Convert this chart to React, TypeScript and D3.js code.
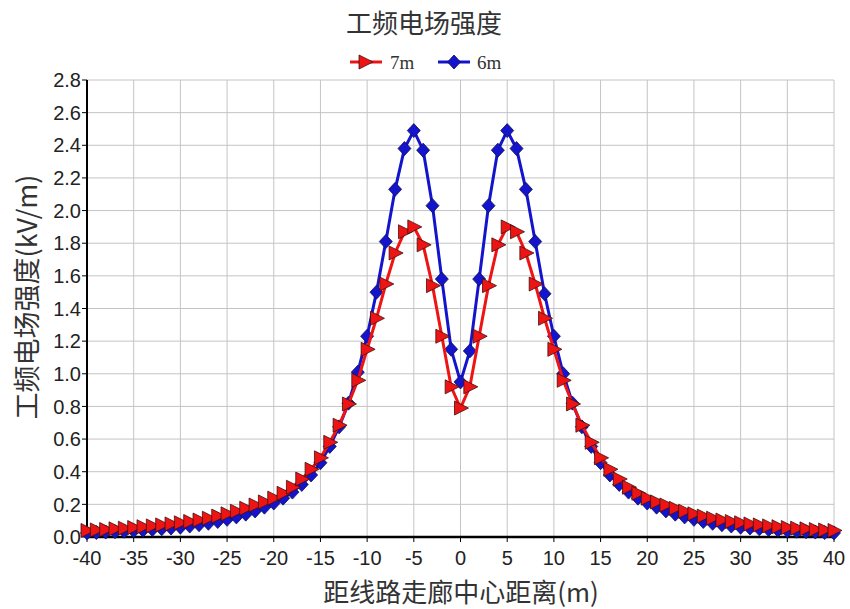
import React from 'react';
import * as d3 from 'd3';

// distance from corridor centre (m)
const distances = [
  -40, -39, -38, -37, -36, -35, -34, -33, -32, -31, -30, -29, -28, -27, -26, -25, -24, -23, -22, -21,
  -20, -19, -18, -17, -16, -15, -14, -13, -12, -11, -10, -9, -8, -7, -6, -5, -4, -3, -2, -1,
  0, 1, 2, 3, 4, 5, 6, 7, 8, 9, 10, 11, 12, 13, 14, 15, 16, 17, 18, 19, 20,
  21, 22, 23, 24, 25, 26, 27, 28, 29, 30, 31, 32, 33, 34, 35, 36, 37, 38, 39, 40,
];

// 7m conductor height (kV/m)
const field7m = [
  0.040, 0.043, 0.046, 0.050, 0.054, 0.058, 0.063, 0.068, 0.074, 0.080, 0.087, 0.095, 0.104, 0.115, 0.128, 0.142, 0.158, 0.176, 0.196, 0.215,
  0.238, 0.268, 0.305, 0.355, 0.415, 0.485, 0.580, 0.685, 0.815, 0.960, 1.15, 1.34, 1.55, 1.74, 1.87, 1.90, 1.79, 1.54, 1.23, 0.92,
  0.79, 0.92, 1.23, 1.54, 1.79, 1.90, 1.87, 1.74, 1.55, 1.34, 1.15, 0.960, 0.815, 0.685, 0.580, 0.485, 0.415, 0.355, 0.305, 0.268, 0.238,
  0.215, 0.196, 0.176, 0.158, 0.142, 0.128, 0.115, 0.104, 0.095, 0.087, 0.080, 0.074, 0.068, 0.063, 0.058, 0.054, 0.050, 0.046, 0.043, 0.040,
];

// 6m conductor height (kV/m)
const field6m = [
  0.025, 0.027, 0.030, 0.032, 0.035, 0.038, 0.042, 0.046, 0.050, 0.055, 0.060, 0.067, 0.075, 0.084, 0.095, 0.108, 0.123, 0.140, 0.160, 0.183,
  0.208, 0.238, 0.275, 0.322, 0.380, 0.455, 0.555, 0.675, 0.820, 1.01, 1.23, 1.50, 1.81, 2.13, 2.38, 2.49, 2.37, 2.03, 1.58, 1.15,
  0.95, 1.14, 1.58, 2.03, 2.37, 2.49, 2.38, 2.13, 1.81, 1.49, 1.23, 1.00, 0.820, 0.675, 0.555, 0.455, 0.380, 0.322, 0.275, 0.238, 0.208,
  0.183, 0.160, 0.140, 0.123, 0.108, 0.095, 0.084, 0.075, 0.067, 0.060, 0.055, 0.050, 0.046, 0.042, 0.038, 0.035, 0.032, 0.030, 0.027, 0.025,
];

const xTicks = d3.range(-40, 41, 5);
const yTicks = d3.range(0, 2.81, 0.2);

const title = '工频电场强度';
const xLabel = '距线路走廊中心距离(m)';
const yLabel = '工频电场强度(kV/m)';

const RED = '#ee1414';
const BLUE = '#1414cc';
const CJK = '"Noto Sans CJK SC", sans-serif';
const NUM = '"Liberation Sans", Arial, sans-serif';

const triangle = (cx: number, cy: number) =>
  `M${cx - 6},${cy - 7}L${cx + 8},${cy}L${cx - 6},${cy + 7}Z`;
const diamond = (cx: number, cy: number) =>
  `M${cx},${cy - 7}L${cx + 6.5},${cy}L${cx},${cy + 7}L${cx - 6.5},${cy}Z`;

const App = () => {
  const width = 850;
  const height = 609;
  const m = { left: 87, right: 834, top: 80, bottom: 537 };

  const x = d3.scaleLinear().domain([-40, 40]).range([m.left, m.right]);
  const y = d3.scaleLinear().domain([0, 2.8]).range([m.bottom, m.top]);

  const line = d3.line<[number, number]>()
    .x(d => x(d[0]))
    .y(d => y(d[1]));

  const red = distances.map((d, i) => [d, field7m[i]] as [number, number]);
  const blue = distances.map((d, i) => [d, field6m[i]] as [number, number]);

  return (
    <svg width={width} height={height} style={{ position: 'absolute', left: 0, top: 0, background: '#fff' }}>
      <rect width={width} height={height} fill="#fff" />

      {/* grid */}
      {xTicks.map(t => (
        <line key={'gx' + t} x1={x(t)} x2={x(t)} y1={m.top} y2={m.bottom} stroke="#c4c4c4" strokeWidth={1} />
      ))}
      {yTicks.map(t => (
        <line key={'gy' + t} x1={m.left} x2={m.right} y1={y(t)} y2={y(t)} stroke="#c4c4c4" strokeWidth={1} />
      ))}

      {/* axes */}
      <line x1={m.left} x2={m.left} y1={m.top} y2={m.bottom + 1} stroke="#000" strokeWidth={2} />
      <line x1={m.left - 1} x2={m.right} y1={m.bottom} y2={m.bottom} stroke="#000" strokeWidth={2.5} />
      {yTicks.map(t => (
        <line key={'ty' + t} x1={m.left - 5} x2={m.left} y1={y(t)} y2={y(t)} stroke="#000" strokeWidth={1} />
      ))}
      {xTicks.map(t => (
        <line key={'tx' + t} x1={x(t)} x2={x(t)} y1={m.bottom} y2={m.bottom + 5} stroke="#000" strokeWidth={1} />
      ))}

      {/* tick labels */}
      {yTicks.map(t => (
        <text key={'ly' + t} x={m.left - 6} y={y(t)} dy="0.36em" textAnchor="end"
          fontFamily={NUM} fontSize={20} fill="#222">{t.toFixed(1)}</text>
      ))}
      {xTicks.map(t => (
        <text key={'lx' + t} x={x(t)} y={m.bottom + 28} textAnchor="middle"
          fontFamily={NUM} fontSize={20} fill="#222">{t}</text>
      ))}

      {/* series */}
      <path d={line(blue) || ''} fill="none" stroke={BLUE} strokeWidth={3} />
      {blue.map((d, i) => (
        <path key={'b' + i} d={diamond(x(d[0]), y(d[1]))} fill={BLUE} stroke="#101050" strokeWidth={0.8} />
      ))}
      <path d={line(red) || ''} fill="none" stroke={RED} strokeWidth={3} />
      {red.map((d, i) => (
        <path key={'r' + i} d={triangle(x(d[0]), y(d[1]))} fill={RED} stroke="#401010" strokeWidth={0.8} />
      ))}

      {/* title */}
      <text x={424} y={33} textAnchor="middle" fontFamily={CJK} fontSize={26} fill="#333">{title}</text>

      {/* legend */}
      <g>
        <line x1={350} x2={382} y1={62} y2={62} stroke={RED} strokeWidth={3} />
        <path d={triangle(365, 62)} fill={RED} stroke="#401010" strokeWidth={0.8} />
        <text x={390} y={69} fontFamily='"Liberation Serif", serif' fontSize={19} fill="#333">7m</text>
        <line x1={438} x2={470} y1={62} y2={62} stroke={BLUE} strokeWidth={3} />
        <path d={diamond(454, 62)} fill={BLUE} stroke="#101050" strokeWidth={0.8} />
        <text x={477} y={69} fontFamily='"Liberation Serif", serif' fontSize={19} fill="#333">6m</text>
      </g>

      {/* axis titles */}
      <text x={461} y={602} textAnchor="middle" fontFamily={CJK} fontSize={26} fill="#333">{xLabel}</text>
      <text transform={`translate(37, 297) rotate(-90)`} textAnchor="middle" fontFamily={CJK} fontSize={27} fill="#333">{yLabel}</text>
    </svg>
  );
};

export default App;
